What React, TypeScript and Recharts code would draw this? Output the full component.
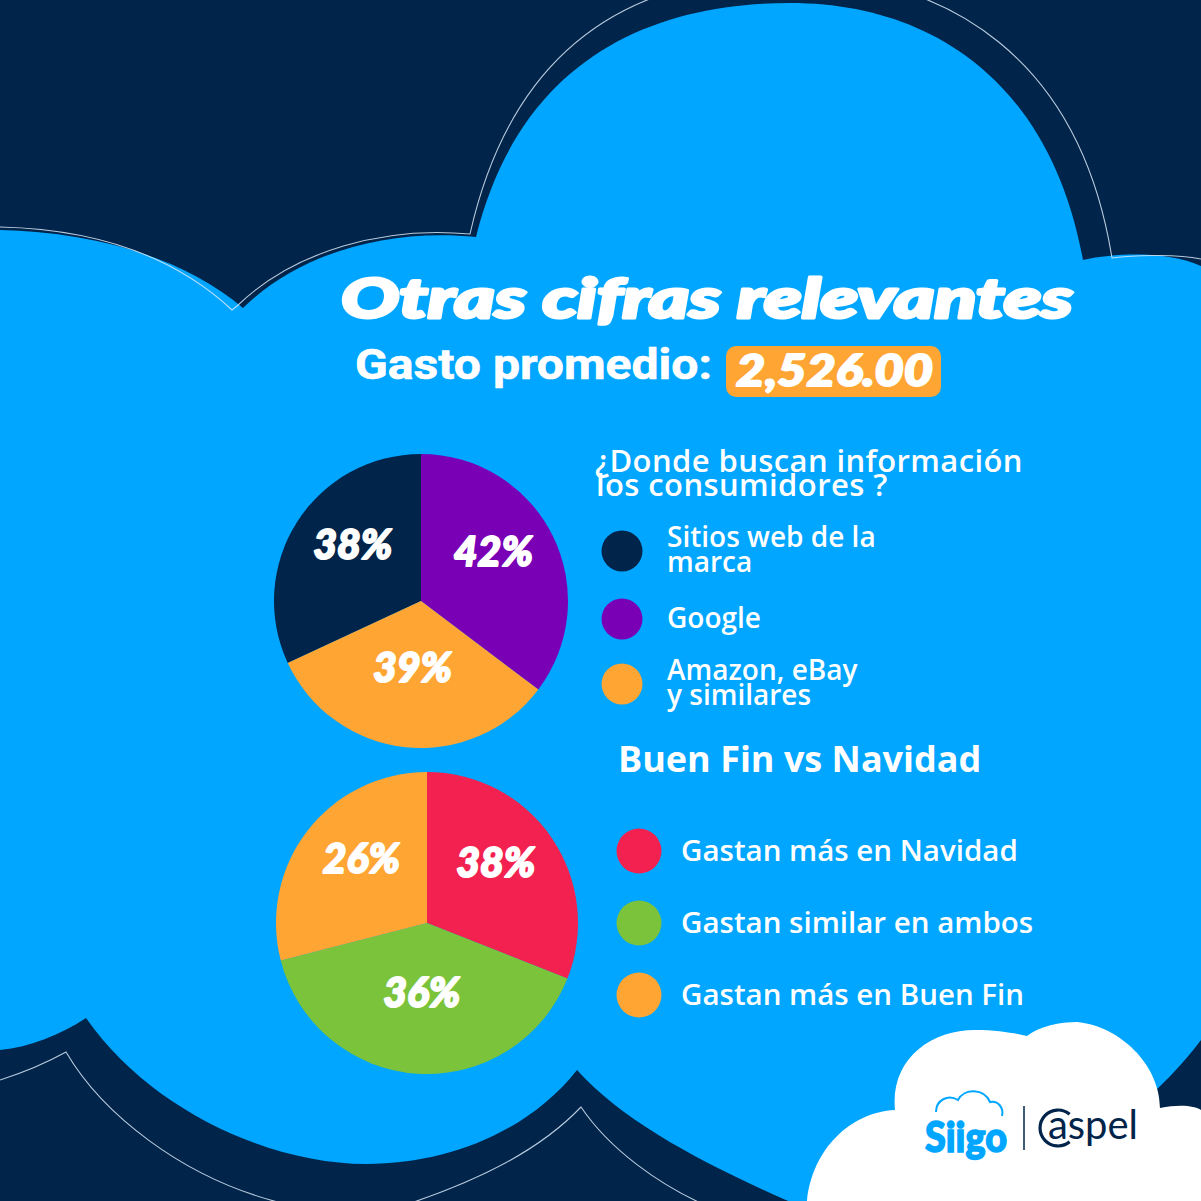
import React from 'react';
import { PieChart, Pie, Cell } from 'recharts';

// ¿Donde buscan información los consumidores?  (legend order)
const infoLines = [['Sitios web de la', 'marca'], ['Google'], ['Amazon, eBay', 'y similares']];
const infoValues = [38, 42, 39];
const infoColors = ['#01244A', '#7A00B6', '#FFA533'];

// Buen Fin vs Navidad
const buenFinCategories = ['Gastan más en Navidad', 'Gastan similar en ambos', 'Gastan más en Buen Fin'];
const buenFinLabels = ['38%', '36%', '26%'];
// slice sizes as they are drawn in the picture (the printed labels differ)
const buenFinShare = [31, 40, 29];
const buenFinColors = ['#F3214F', '#7BC33B', '#FFA533'];

const questionLines = ['¿Donde buscan información', 'los consumidores ?'];
const gastoPromedio = '2,526.00';

const NAVY = '#01244A';
const SKY = '#00A6FF';
const SIZE = 1201;
const RADIAN = Math.PI / 180;

const infoData = infoLines.map((lines, i) => ({ name: lines.join(' '), value: infoValues[i] }));
const buenFinData = buenFinCategories.map((name, i) => ({ name, value: buenFinShare[i], label: buenFinLabels[i] }));

// first slice ends at 12 o'clock so that Google starts there
const infoTotal = infoValues.reduce((s, v) => s + v, 0);
const infoStart = 90 + (360 * infoValues[0]) / infoTotal;

const heavy = { fontFamily: 'Lato', fontWeight: 900, fontStyle: 'italic' as const, stroke: '#fff', strokeLinejoin: 'round' as const };

const renderPct = ({ cx, cy, midAngle, outerRadius, value, payload }: any) => {
    const r = outerRadius * 0.55;
    const x = cx + r * Math.cos(-midAngle * RADIAN);
    const y = cy + r * Math.sin(-midAngle * RADIAN) - 14;
    return (
        <text x={x} y={y + 15} fill="#fff" textAnchor="middle" fontSize={41} strokeWidth={1.9} {...heavy}>
            {payload?.label ?? `${value}%`}
        </text>
    );
};

const Background = () => (
    <svg width={SIZE} height={SIZE} style={{ position: 'absolute', left: 0, top: 0 }}>
        <rect width={SIZE} height={SIZE} fill={NAVY} />
        <path
            d="M0,230 C90,232 180,255 243,308 C300,252 390,228 476,237 C520,60 650,3 790,3 C930,3 1050,80 1083,260
               C1120,252 1170,252 1201,266 L1201,1040 C1150,1110 1000,1230 880,1240 C760,1190 640,1140 577,1070
               C530,1130 450,1164 366,1164 C270,1164 150,1110 86,1018 C60,1035 30,1047 0,1050 Z"
            fill={SKY}
        />
        <g fill="none" stroke="#d8e8f7" strokeWidth={1.1} opacity={0.85}>
            <path d="M0,227 C88,229 170,252 232,310 L237,306 C295,250 385,226 470,234 C516,30 650,-25 790,-25 C950,-25 1080,60 1112,258 C1140,254 1180,255 1201,259" />
            <path d="M0,1080 C25,1072 48,1062 66,1052 C100,1110 180,1180 290,1205" />
            <path d="M405,1205 C480,1180 540,1150 581,1107 C610,1150 660,1185 705,1205" />
        </g>
        <path
            d="M807,1201 C812,1150 850,1112 895,1110 C890,1060 930,1030 975,1030 C1000,1030 1018,1034 1027,1036
               C1040,1026 1060,1022 1077,1022 C1120,1026 1160,1065 1160,1108 C1180,1104 1195,1106 1201,1110 L1201,1201 Z"
            fill="#fff"
        />
    </svg>
);

const Overlay = () => (
    <svg width={SIZE} height={SIZE} style={{ position: 'absolute', left: 0, top: 0, pointerEvents: 'none' }}>
        <text x={341} y={318} fill="#fff" fontSize={56} strokeWidth={3} {...heavy}
            textLength={732} lengthAdjust="spacingAndGlyphs">
            Otras cifras relevantes
        </text>
        <text x={355} y={379} fill="#fff" stroke="#fff" strokeWidth={0.6} fontFamily="Roboto" fontWeight={700} fontSize={42}
            textLength={357} lengthAdjust="spacingAndGlyphs">
            Gasto promedio:
        </text>
        <rect x={726} y={346} width={215} height={51} rx={10} fill="#FFA533" />
        <text x={736} y={386} fill="#fff" fontSize={44} strokeWidth={2} {...heavy}
            textLength={197} lengthAdjust="spacingAndGlyphs">
            {gastoPromedio}
        </text>

        <g fill="#fff" fontFamily="Open Sans" fontWeight={600}>
            <text x={595} y={472} fontSize={31} letterSpacing={0.4}>
                {questionLines.map((ln, j) => (
                    <tspan key={j} x={j === 0 ? 595 : 596} dy={j === 0 ? 0 : 24}>{ln}</tspan>
                ))}
            </text>
            {infoLines.map((lines, i) => {
                const cy = [551, 619, 684][i];
                return (
                    <g key={i}>
                        <circle cx={622} cy={cy} r={20.5} fill={infoColors[i]} />
                        <text x={667} y={lines.length === 1 ? cy + 9 : cy - 4} fontSize={28}>
                            {lines.map((ln, j) => (
                                <tspan key={j} x={667} dy={j === 0 ? 0 : 25}>{ln}</tspan>
                            ))}
                        </text>
                    </g>
                );
            })}

            <text x={618} y={772} fontSize={36} fontWeight={700}>Buen Fin vs Navidad</text>
            {buenFinCategories.map((name, i) => {
                const cy = 851 + i * 72;
                return (
                    <g key={name}>
                        <circle cx={639} cy={cy} r={22.5} fill={buenFinColors[i]} />
                        <text x={681} y={cy + 10} fontSize={29.5}>{name}</text>
                    </g>
                );
            })}
        </g>

        {/* logos */}
        <path d="M936,1112 C936,1100 948,1094 958,1100 C964,1088 984,1088 990,1102 C998,1100 1004,1108 1002,1116"
            fill="none" stroke={SKY} strokeWidth={2} />
        <text x={925} y={1152} fill={SKY} stroke={SKY} strokeWidth={1.5} fontFamily="Lato" fontWeight={900} fontSize={42}
            textLength={82} lengthAdjust="spacingAndGlyphs">Siigo</text>
        <line x1={1024} y1={1106} x2={1024} y2={1150} stroke={NAVY} strokeWidth={1.5} />
        <path d="M1069.6,1114.2 A18,18 0 1 0 1069.6,1141.8" fill="none" stroke={NAVY} strokeWidth={3.2} />
        <text x={1048} y={1139} fill={NAVY} fontFamily="Lato" fontWeight={400} fontSize={40}
            textLength={90} lengthAdjust="spacingAndGlyphs">aspel</text>
    </svg>
);

export default function App() {
    return (
        <div style={{ position: 'absolute', left: 0, top: 0, width: SIZE, height: SIZE, overflow: 'hidden' }}>
            <Background />
            <div style={{ position: 'absolute', left: 0, top: 0 }}>
                <PieChart width={SIZE} height={SIZE} margin={{ top: 0, right: 0, bottom: 0, left: 0 }}>
                    <Pie
                        data={infoData}
                        dataKey="value"
                        nameKey="name"
                        cx={421}
                        cy={601}
                        outerRadius={147}
                        startAngle={infoStart}
                        endAngle={infoStart - 360}
                        stroke="none"
                        labelLine={false}
                        label={renderPct}
                        isAnimationActive={false}
                    >
                        {infoData.map((d, i) => (
                            <Cell key={d.name} fill={infoColors[i]} />
                        ))}
                    </Pie>
                    <Pie
                        data={buenFinData}
                        dataKey="value"
                        nameKey="name"
                        cx={427}
                        cy={923}
                        outerRadius={151}
                        startAngle={90}
                        endAngle={-270}
                        stroke="none"
                        labelLine={false}
                        label={renderPct}
                        isAnimationActive={false}
                    >
                        {buenFinData.map((d, i) => (
                            <Cell key={d.name} fill={buenFinColors[i]} />
                        ))}
                    </Pie>
                </PieChart>
            </div>
            <Overlay />
        </div>
    );
}
